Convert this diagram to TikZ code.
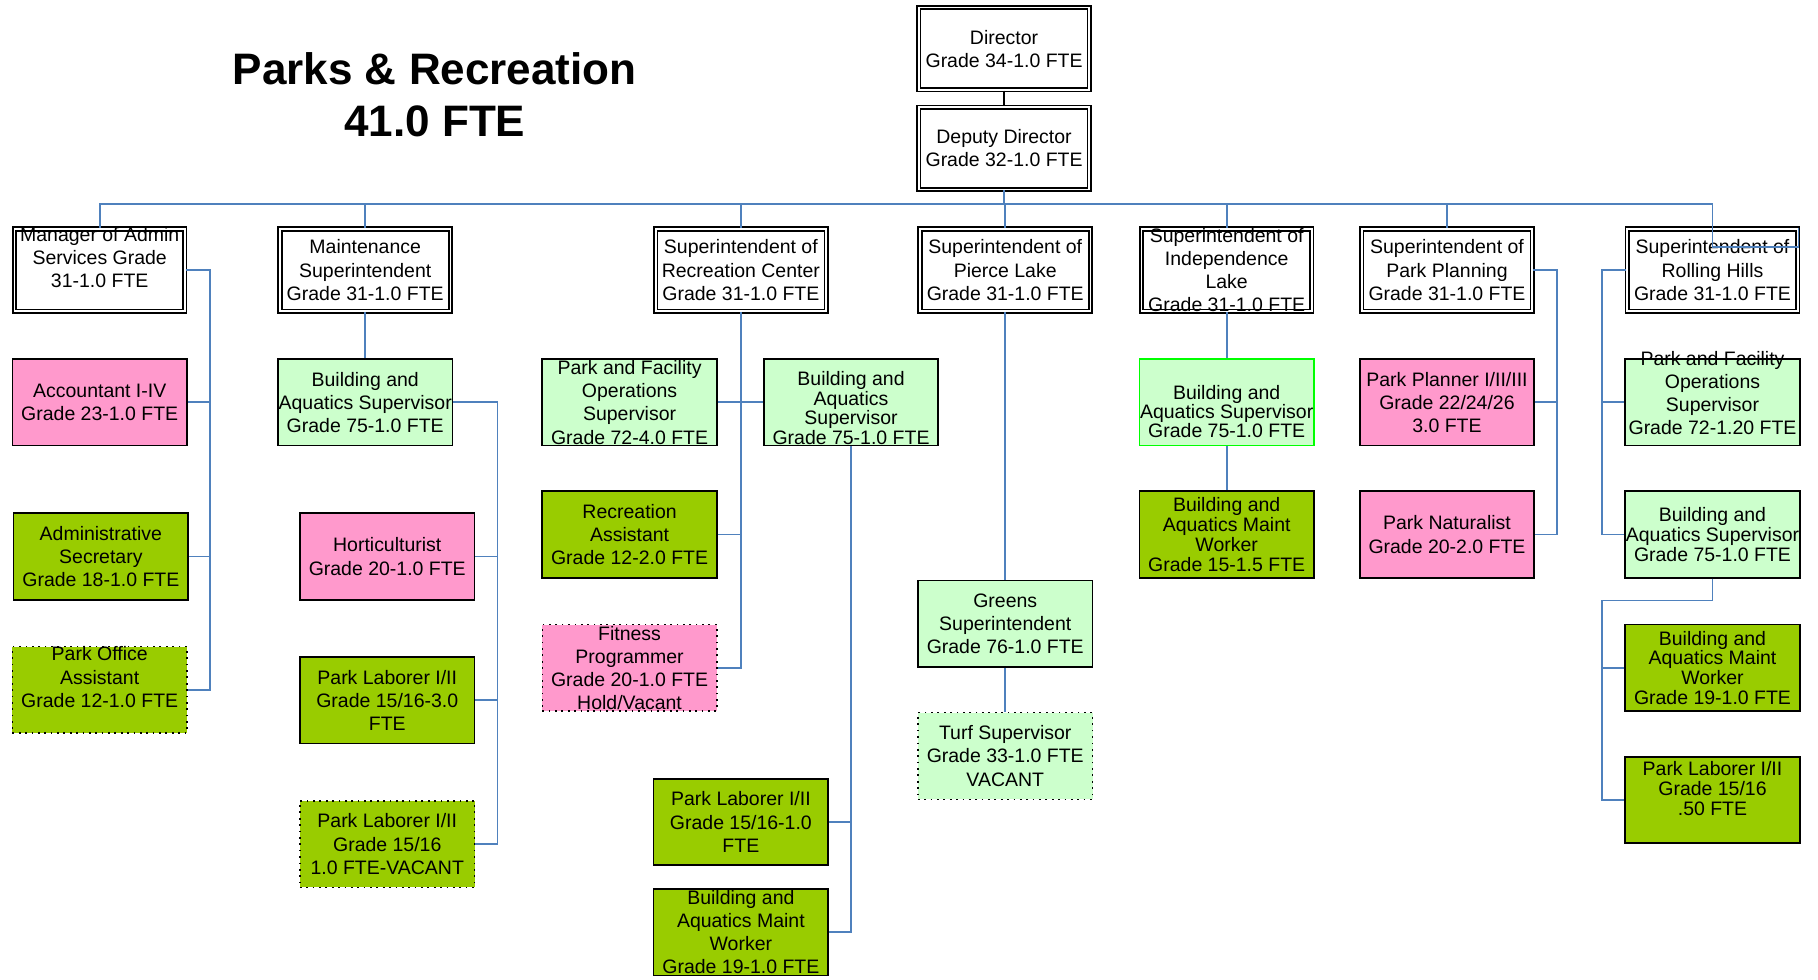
\documentclass[tikz,border=0pt]{standalone}
\usepackage{fontspec}
\setmainfont{Liberation Sans}
\usepackage{tikz}
\usetikzlibrary{positioning, calc}

\definecolor{rolepink}{HTML}{FF99CC}
\definecolor{roleolive}{HTML}{99CC00}
\definecolor{rolemint}{HTML}{CCFFCC}
\definecolor{linkblue}{RGB}{79,129,189}

\begin{document}
\begin{tikzpicture}[x=0.5pt, y=-0.5pt,
  jobtxt/.style={font=\fontsize{8.4}{10}\selectfont, align=center, inner sep=0pt},
  job/.style={label={[jobtxt]center:#1}},
  tightjob/.style={label={[jobtxt, font=\fontsize{8.4}{8.5}\selectfont]center:#1}},
  headbox/.style={rectangle, draw, double, double distance=0.8pt, line width=0.7pt, fill=white, minimum width=73.5pt, minimum height=35.5pt, inner sep=0pt},
  rolebox/.style={rectangle, draw, line width=0.75pt, minimum width=75.3pt, minimum height=37.3pt, inner sep=0pt},
  pinkbox/.style={rolebox, fill=rolepink},
  olivebox/.style={rolebox, fill=roleolive},
  mintbox/.style={rolebox, fill=rolemint},
  vacant/.style={dotted, line width=0.6pt},
  link/.style={draw=linkblue, line width=0.75pt}
]
\useasboundingbox (0,0) rectangle (1568,845);

\node (title) [font=\fontsize{19}{22.5}\selectfont\bfseries, align=center] at (375,82) {Parks \& Recreation\\41.0 FTE};

% top
\node (director) [headbox, job={Director\\Grade 34-1.0 FTE}] at (866,42) {};
\node (deputy) [headbox, job={Deputy Director\\Grade 32-1.0 FTE}] at (866,128) {};

% superintendents
\node (admin) [headbox, label={[jobtxt, yshift=5.5pt]center:Manager of Admin\\Services Grade\\31-1.0 FTE}] at (86,233) {};
\node (maint) [headbox, job={Maintenance\\Superintendent\\Grade 31-1.0 FTE}] at (315,233) {};
\node (reccen) [headbox, job={Superintendent of\\Recreation Center\\Grade 31-1.0 FTE}] at (639,233) {};
\node (pierce) [headbox, job={Superintendent of\\Pierce Lake\\Grade 31-1.0 FTE}] at (867,233) {};
\node (indep) [headbox, job={Superintendent of\\Independence\\Lake\\Grade 31-1.0 FTE}] at (1058,233) {};
\node (planning) [headbox, job={Superintendent of\\Park Planning\\Grade 31-1.0 FTE}] at (1248,233) {};
\node (rolling) [headbox, job={Superintendent of\\Rolling Hills\\Grade 31-1.0 FTE}] at (1477,233) {};

% admin services
\node (accountant) [pinkbox, job={Accountant I-IV\\Grade 23-1.0 FTE}] at (86,347) {};
\node (secretary) [olivebox, job={Administrative\\Secretary\\Grade 18-1.0 FTE}] at (87,480) {};
\node (office) [olivebox, vacant, label={[jobtxt, yshift=5.5pt]center:Park Office\\Assistant\\Grade 12-1.0 FTE}] at (86,595) {};

% maintenance
\node (maintbas) [mintbox, job={Building and\\Aquatics Supervisor\\Grade 75-1.0 FTE}] at (315,347) {};
\node (horti) [pinkbox, job={Horticulturist\\Grade 20-1.0 FTE}] at (334,480) {};
\node (laborerA) [olivebox, job={Park Laborer I/II\\Grade 15/16-3.0\\FTE}] at (334,604) {};
\node (laborerB) [olivebox, vacant, job={Park Laborer I/II\\Grade 15/16\\1.0 FTE-VACANT}] at (334,728) {};

% recreation center
\node (recpfos) [mintbox, job={Park and Facility\\Operations\\Supervisor\\Grade 72-4.0 FTE}] at (543,347) {};
\node (recbas) [mintbox, label={[jobtxt, font=\fontsize{8.4}{8.5}\selectfont, yshift=-2.5pt]center:Building and\\Aquatics\\Supervisor\\Grade 75-1.0 FTE}] at (734,347) {};
\node (recasst) [olivebox, job={Recreation\\Assistant\\Grade 12-2.0 FTE}] at (543,461) {};
\node (fitness) [pinkbox, vacant, job={Fitness\\Programmer\\Grade 20-1.0 FTE\\Hold/Vacant}] at (543,576) {};
\node (reclaborer) [olivebox, job={Park Laborer I/II\\Grade 15/16-1.0\\FTE}] at (639,709) {};
\node (recworker) [olivebox, job={Building and\\Aquatics Maint\\Worker\\Grade 19-1.0 FTE}] at (639,804) {};

% pierce lake
\node (greens) [mintbox, job={Greens\\Superintendent\\Grade 76-1.0 FTE}] at (867,538) {};
\node (turf) [mintbox, vacant, job={Turf Supervisor\\Grade 33-1.0 FTE\\VACANT}] at (867,652) {};

% independence lake
\node (indepbas) [mintbox, draw=green, label={[jobtxt, font=\fontsize{8.4}{8.3}\selectfont, yshift=-4pt]center:Building and\\Aquatics Supervisor\\Grade 75-1.0 FTE}] at (1058,347) {};
\node (indepworker) [olivebox, tightjob={Building and\\Aquatics Maint\\Worker\\Grade 15-1.5 FTE}] at (1058,461) {};

% park planning
\node (planner) [pinkbox, job={Park Planner I/II/III\\Grade 22/24/26\\3.0 FTE}] at (1248,347) {};
\node (naturalist) [pinkbox, job={Park Naturalist\\Grade 20-2.0 FTE}] at (1248,461) {};

% rolling hills
\node (rollpfos) [mintbox, label={[jobtxt, yshift=4pt]center:Park and Facility\\Operations\\Supervisor\\Grade 72-1.20 FTE}] at (1477,347) {};
\node (rollbas) [mintbox, tightjob={Building and\\Aquatics Supervisor\\Grade 75-1.0 FTE}] at (1477,461) {};
\node (rollworker) [olivebox, tightjob={Building and\\Aquatics Maint\\Worker\\Grade 19-1.0 FTE}] at (1477,576) {};
\node (rolllaborer) [olivebox, label={[jobtxt, font=\fontsize{8.4}{8.5}\selectfont, yshift=5pt]center:Park Laborer I/II\\Grade 15/16\\.50 FTE}] at (1477,690) {};

% trunk points
\coordinate (bus) at (866,176);
\coordinate (rhbend) at (1477,213);
\coordinate (admintrunk) at (181,233);
\coordinate (mainttrunk) at (429,347);
\coordinate (plantrunk) at (1343,233);
\coordinate (rolltrunk) at (1382,233);
\coordinate (rollbend) at (1382,518);

% lines
\draw [line width=0.9pt] (director) -- (deputy);
\draw [link] (deputy.south) -- (bus);
\draw [link] (admin.north) |- (bus);
\draw [link] (maint.north) |- (bus);
\draw [link] (reccen.north) |- (bus);
\draw [link] (pierce.north) |- (bus);
\draw [link] (indep.north) |- (bus);
\draw [link] (planning.north) |- (bus);
\draw [link] (bus) -| (rhbend) -| (rolling.north east);

\draw [link] (admin.east) -- (admintrunk) |- (office.east);
\draw [link] (accountant.east) -| (admintrunk);
\draw [link] (secretary.east) -| (admintrunk);

\draw [link] (maint) -- (maintbas);
\draw [link] (maintbas.east) -- (mainttrunk) |- (laborerB.east);
\draw [link] (horti.east) -| (mainttrunk);
\draw [link] (laborerA.east) -| (mainttrunk);

\draw [link] (reccen.south) |- (fitness.east);
\draw [link] (recpfos.east) -- (recbas.west);
\draw [link] (recasst.east) -| (reccen.south);
\draw [link] (recbas.south) |- (recworker.east);
\draw [link] (reclaborer.east) -| (recbas.south);

\draw [link] (pierce) -- (greens);
\draw [link] (greens) -- (turf);

\draw [link] (indep) -- (indepbas);
\draw [link] (indepbas) -- (indepworker);

\draw [link] (planning.east) -- (plantrunk) |- (naturalist.east);
\draw [link] (planner.east) -| (plantrunk);

\draw [link] (rolling.west) -- (rolltrunk) |- (rollbas.west);
\draw [link] (rollpfos.west) -| (rolltrunk);
\draw [link] (rollbas.south) |- (rollbend) |- (rolllaborer.west);
\draw [link] (rollworker.west) -| (rollbend);
\end{tikzpicture}
\end{document}
